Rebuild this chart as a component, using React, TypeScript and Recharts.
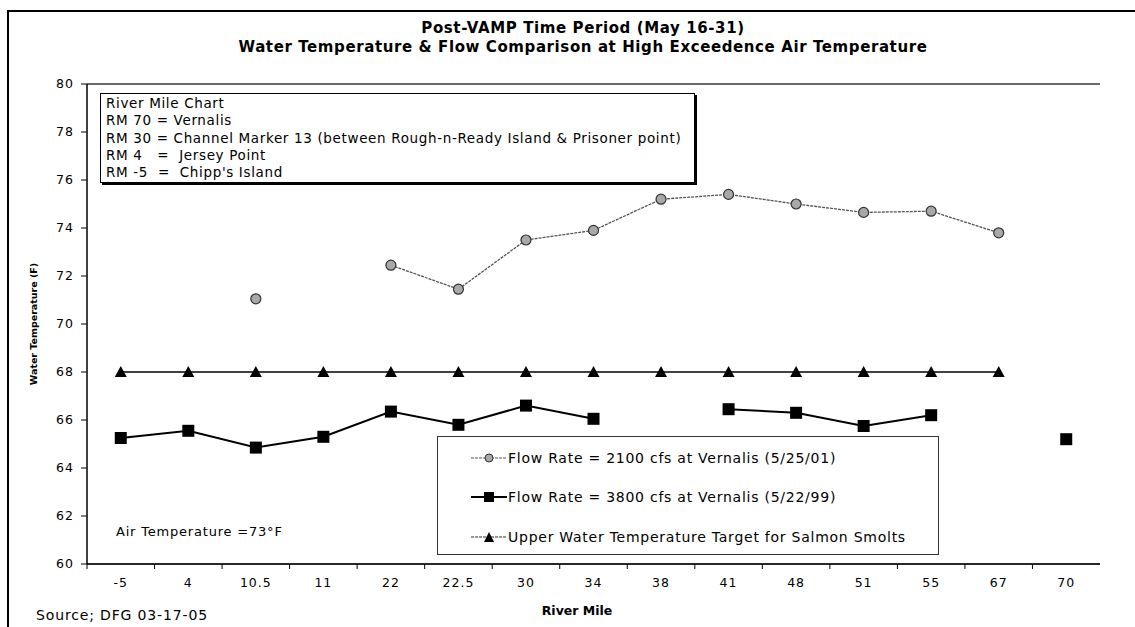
import React from 'react';
import {
  LineChart,
  Line,
  XAxis,
  YAxis,
  CartesianGrid,
  Legend,
  ReferenceLine,
} from 'recharts';

// river mile categories along the x axis
const riverMiles = ['-5', '4', '10.5', '11', '22', '22.5', '30', '34', '38', '41', '48', '51', '55', '67', '70'];

// water temperature (F) at each river mile
const flow2100 = [null, null, 71.05, null, 72.45, 71.45, 73.5, 73.9, 75.2, 75.4, 75.0, 74.65, 74.7, 73.8, null];
const flow3800 = [65.25, 65.55, 64.85, 65.3, 66.35, 65.8, 66.6, 66.05, null, 66.45, 66.3, 65.75, 66.2, null, 65.2];
const salmonTarget = [68, 68, 68, 68, 68, 68, 68, 68, 68, 68, 68, 68, 68, 68, null];

const yTicks = [60, 62, 64, 66, 68, 70, 72, 74, 76, 78, 80];

const seriesLabels = {
  flow2100: 'Flow Rate = 2100 cfs at Vernalis (5/25/01)',
  flow3800: 'Flow Rate = 3800 cfs at Vernalis (5/22/99)',
  target: 'Upper Water Temperature Target for Salmon Smolts',
};

const riverMileNotes = [
  'River Mile Chart',
  'RM 70 = Vernalis',
  'RM 30 = Channel Marker 13 (between Rough-n-Ready Island & Prisoner point)',
  'RM 4   =  Jersey Point',
  'RM -5  =  Chipp\'s Island',
];

const chartData = riverMiles.map((rm, i) => ({
  rm,
  flow2100: flow2100[i],
  flow3800: flow3800[i],
  target: salmonTarget[i],
}));

const FONT = '"DejaVu Sans", Arial, sans-serif';

const CircleDot = (props: any) => {
  const { cx, cy, index } = props;
  if (cx == null || cy == null || props.value == null) return <g key={`c${index}`} />;
  return <circle key={`c${index}`} cx={cx} cy={cy} r={5} fill="#a8a8a8" stroke="#333" strokeWidth={1.2} />;
};

const SquareDot = (props: any) => {
  const { cx, cy, index } = props;
  if (cx == null || cy == null || props.value == null) return <g key={`s${index}`} />;
  return <rect key={`s${index}`} x={cx - 6} y={cy - 6} width={12} height={12} fill="#000" />;
};

const TriangleDot = (props: any) => {
  const { cx, cy, index } = props;
  if (cx == null || cy == null || props.value == null) return <g key={`t${index}`} />;
  return (
    <polygon
      key={`t${index}`}
      points={`${cx},${cy - 6} ${cx - 6},${cy + 5} ${cx + 6},${cy + 5}`}
      fill="#000"
    />
  );
};

// tick marks sit between categories, labels in the middle
const XTick = (props: any) => {
  const { x, y, payload } = props;
  const off = payload.offset ?? 33.75;
  return (
    <g>
      <line x1={x - off} y1={y} x2={x - off} y2={y + 5} stroke="#000" />
      <text x={x} y={y + 23} textAnchor="middle" fontSize={12.5} letterSpacing={1} fontFamily={FONT} fill="#000">
        {payload.value}
      </text>
    </g>
  );
};

const LegendBox = () => {
  const rows = [
    { key: 'flow2100', label: seriesLabels.flow2100 },
    { key: 'flow3800', label: seriesLabels.flow3800 },
    { key: 'target', label: seriesLabels.target },
  ];
  return (
    <div
      style={{
        width: 502,
        height: 119,
        border: '1px solid #333',
        background: '#fff',
        boxSizing: 'border-box',
        paddingTop: 1,
      }}
    >
      {rows.map((r) => (
        <div key={r.key} style={{ display: 'flex', alignItems: 'center', height: 39.5, paddingLeft: 33 }}>
          <svg width={36} height={14} style={{ marginRight: 1 }}>
            {r.key === 'flow2100' && (
              <>
                <line x1={0} y1={7} x2={36} y2={7} stroke="#555" strokeWidth={1.2} strokeDasharray="3 1" />
                <circle cx={18} cy={7} r={4} fill="#a8a8a8" stroke="#333" />
              </>
            )}
            {r.key === 'flow3800' && (
              <>
                <line x1={0} y1={7} x2={36} y2={7} stroke="#000" strokeWidth={2} />
                <rect x={13} y={2} width={10} height={10} fill="#000" />
              </>
            )}
            {r.key === 'target' && (
              <>
                <line x1={0} y1={7} x2={36} y2={7} stroke="#333" strokeWidth={1.2} strokeDasharray="3 1" />
                <polygon points="18,2 13,12 23,12" fill="#000" />
              </>
            )}
          </svg>
          <span style={{ fontSize: 14, letterSpacing: 0.75, fontFamily: FONT, color: '#000', whiteSpace: 'nowrap' }}>{r.label}</span>
        </div>
      ))}
    </div>
  );
};

const overlayText: React.CSSProperties = {
  position: 'absolute',
  fontFamily: FONT,
  color: '#000',
  whiteSpace: 'nowrap',
};

export default function App() {
  return (
    <div style={{ position: 'absolute', left: 0, top: 0, width: 1135, height: 627, background: '#fff', overflow: 'hidden' }}>
      {/* outer frame, top and left only */}
      <div style={{ position: 'absolute', left: 7, top: 10, right: -5, bottom: -5, borderLeft: '2px solid #000', borderTop: '2px solid #000' }} />

      <LineChart
        width={1135}
        height={627}
        data={chartData}
        margin={{ top: 84, right: 35, left: 0, bottom: 33 }}
        style={{ position: 'absolute', left: 0, top: 0 }}
      >
        <CartesianGrid vertical={false} stroke="#444" strokeWidth={1} />
        <XAxis
          dataKey="rm"
          scale="band"
          height={30}
          tickLine={false}
          tickSize={0}
          tickMargin={0}
          interval={0}
          axisLine={{ stroke: '#000', strokeWidth: 1.5 }}
          tick={<XTick />}
        />
        <YAxis
          yAxisId="left"
          width={87}
          domain={[60, 80]}
          ticks={yTicks}
          interval={0}
          tickSize={6}
          tickMargin={7}
          tickLine={{ stroke: '#000' }}
          axisLine={{ stroke: '#000', strokeWidth: 1.5 }}
          tick={{ fontSize: 12.5, letterSpacing: 1, fontFamily: FONT, fill: '#000' }}
        />
        <YAxis
          yAxisId="right"
          orientation="right"
          width={0}
          domain={[60, 80]}
          tick={false}
          tickLine={false}
          axisLine={{ stroke: '#000', strokeWidth: 2.5 }}
        />
        <ReferenceLine yAxisId="left" y={80} stroke="#333" />
        <Legend
          layout="horizontal"
          verticalAlign="middle"
          align="center"
          content={<LegendBox />}
          wrapperStyle={{ position: 'absolute', left: 437, top: 436, width: 502, height: 119 }}
        />
        <Line
          yAxisId="left"
          dataKey="target"
          name={seriesLabels.target}
          stroke="#000"
          strokeWidth={1.5}
          dot={<TriangleDot />}
          activeDot={false}
          isAnimationActive={false}
        />
        <Line
          yAxisId="left"
          dataKey="flow3800"
          name={seriesLabels.flow3800}
          stroke="#000"
          strokeWidth={2}
          dot={<SquareDot />}
          activeDot={false}
          isAnimationActive={false}
        />
        <Line
          yAxisId="left"
          dataKey="flow2100"
          name={seriesLabels.flow2100}
          stroke="#555"
          strokeWidth={1.3}
          strokeDasharray="3 1"
          dot={<CircleDot />}
          activeDot={false}
          isAnimationActive={false}
        />
      </LineChart>

      {/* title */}
      <div style={{ ...overlayText, left: 0, width: 1166, top: 19, textAlign: 'center', fontWeight: 'bold', fontSize: 15, letterSpacing: 0.6, lineHeight: '19px' }}>
        Post-VAMP Time Period (May 16-31)
        <br />
        Water Temperature &amp; Flow Comparison at High Exceedence Air Temperature
      </div>

      {/* river mile notes box */}
      <div
        style={{
          position: 'absolute',
          left: 100,
          top: 93,
          width: 595,
          height: 90,
          border: '1px solid #000',
          boxShadow: '2px 2px 0 #000',
          background: '#fff',
          boxSizing: 'border-box',
          padding: '1px 0 0 5px',
        }}
      >
        {riverMileNotes.map((t) => (
          <div key={t} style={{ fontFamily: FONT, fontSize: 13.5, letterSpacing: 0.65, lineHeight: '17.3px', whiteSpace: 'pre', color: '#000' }}>
            {t}
          </div>
        ))}
      </div>

      {/* y axis title */}
      <div
        style={{
          ...overlayText,
          left: 33,
          top: 324,
          fontSize: 9.5,
          fontWeight: 'bold',
          transform: 'translate(-50%, -50%) rotate(-90deg)',
        }}
      >
        Water Temperature (F)
      </div>

      <div style={{ ...overlayText, left: 116, top: 524, fontSize: 13, letterSpacing: 0.8 }}>Air Temperature =73°F</div>
      <div style={{ ...overlayText, left: 577, top: 603, fontSize: 12.5, fontWeight: 'bold', transform: 'translateX(-50%)' }}>River Mile</div>
      <div style={{ ...overlayText, left: 36, top: 607, fontSize: 14, letterSpacing: 0.85 }}>Source; DFG 03-17-05</div>
    </div>
  );
}
